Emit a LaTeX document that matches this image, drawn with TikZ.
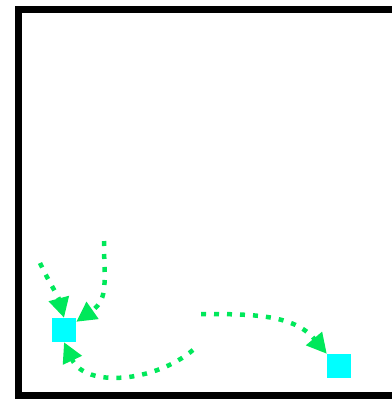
\documentclass[tikz,border=0pt]{standalone}
\usetikzlibrary{arrows.meta,positioning}

\definecolor{linkgreen}{RGB}{0,232,90}
\definecolor{boxcyan}{RGB}{0,255,255}

\begin{document}
\begin{tikzpicture}[
  x=1pt, y=-1pt,
  frame/.style={draw=black, line width=7pt},
  spot/.style={fill=boxcyan, draw=none, minimum size=24pt, inner sep=0pt},
  link/.style={draw=linkgreen, line width=4.5pt, dash pattern=on 5pt off 8pt,
               -{Triangle[length=20pt, width=20pt]}}
]
\useasboundingbox (0,0) rectangle (391,399);

% ---------------- frame ----------------
\draw[frame] (18.5,9) rectangle (420,395.5);

% ---------------- squares ----------------
\node[spot] (left)  at (64,330) {};
\node[spot] (right) at (339,366) {};

% ---------------- free ends ----------------
\coordinate (upA) at (40,263);
\coordinate (upB) at (104,241);
\coordinate (midA) at (193,350);
\coordinate (midB) at (201,314);

% ---------------- links ----------------
\draw[link] (upA) to[out=-65, in=105] (left.north);
\draw[link] (upB) to[out=-90, in=35, looseness=1.2] ([yshift=-4pt]left.north east);
\draw[link] (midA) to[out=-140, in=-65] (left.south);
\draw[link] (midB) to[out=0, in=130] (right.north west);

\end{tikzpicture}
\end{document}
